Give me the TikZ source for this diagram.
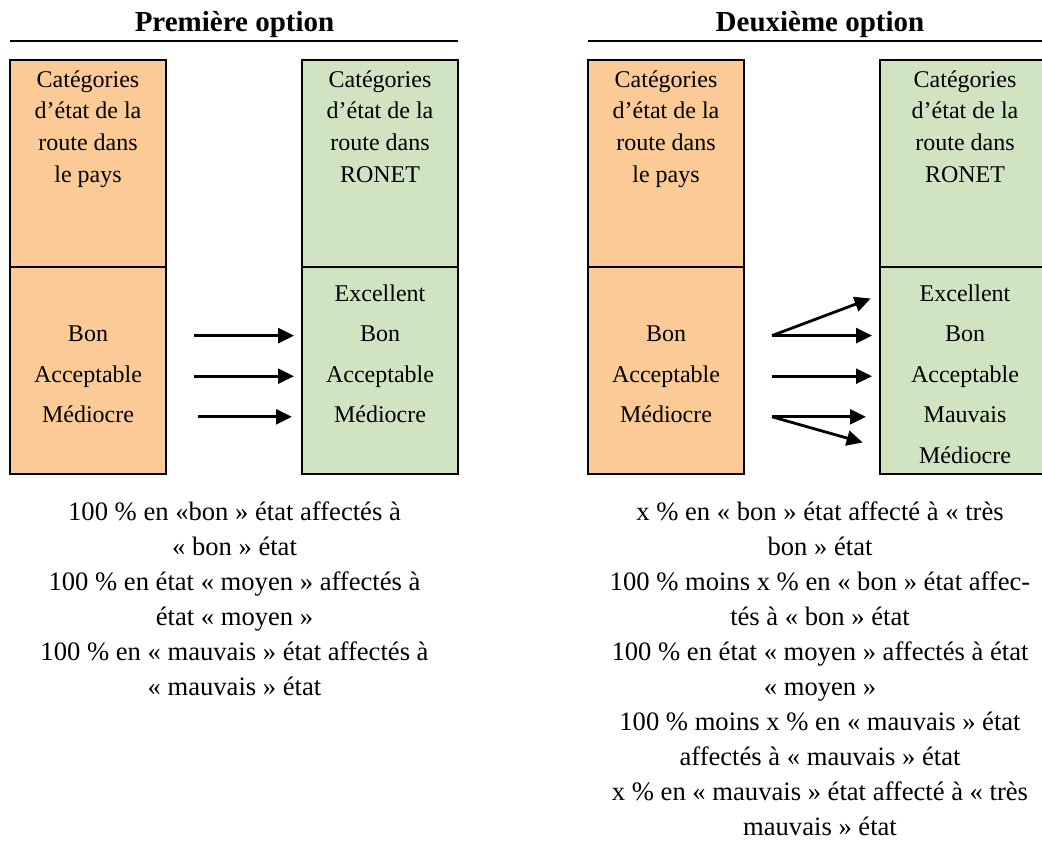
\documentclass[tikz,border=0pt]{standalone}
\usepackage{fontspec}
\setmainfont{Liberation Serif}
\usepackage{xcolor}
\usepackage{tikz}
\usetikzlibrary{arrows.meta, positioning}
\definecolor{paysColor}{RGB}{251, 202, 150}
\definecolor{ronetColor}{RGB}{208, 228, 194}

\begin{document}
\begin{tikzpicture}[
    x=0.5pt, y=-0.5pt,
    font=\fontsize{12}{15.85}\selectfont,
    title/.style={font=\fontsize{14.5}{17}\selectfont\bfseries, anchor=base, inner sep=0pt},
    rule/.style={draw=black, line width=1pt},
    pays/.style={rectangle, draw=black, line width=1.1pt, fill=paysColor, minimum width=78pt, minimum height=103.5pt, inner sep=0pt, outer sep=0pt},
    ronet/.style={pays, fill=ronetColor},
    head/.style={align=center, inner sep=0pt, anchor=north},
    row/.style={minimum width=78pt, minimum height=20.3pt, inner sep=0pt, outer sep=0pt, text height=8.5pt, text depth=2.5pt},
    note/.style={align=center, inner sep=0pt, anchor=north, font=\fontsize{13.3}{17.5}\selectfont},
    line/.style={draw=black, line width=1.4pt, -{Triangle[length=8pt, width=7.5pt]}, shorten <=14pt, shorten >=4pt}
]
\useasboundingbox (0,0) rectangle (1042,840);

% Nodes
\node (title1) [title] at (234.5,32) {Première option};
\node (l1top) [pays, anchor=north west] at (10,60) {};
\node (l1bot) [pays, below=0pt of l1top] {};
\node (r1top) [ronet, right=68pt of l1top] {};
\node (r1bot) [ronet, below=0pt of r1top] {};
\node (l1head) [head, below=5pt of l1top.north] {Catégories\\d’état de la\\route dans\\le pays};
\node (r1head) [head, below=5pt of r1top.north] {Catégories\\d’état de la\\route dans\\RONET};
\node (l1bon) [row, below=24.15pt of l1bot.north] {Bon};
\node (l1acc) [row, below=0pt of l1bon] {Acceptable};
\node (l1med) [row, below=0pt of l1acc] {Médiocre};
\node (r1exc) [row, below=3.85pt of r1bot.north] {Excellent};
\node (r1bon) [row, below=0pt of r1exc] {Bon};
\node (r1acc) [row, below=0pt of r1bon] {Acceptable};
\node (r1med) [row, below=0pt of r1acc] {Médiocre};
\node (note1) [note] at (234.5,501) {100 \% en «bon » état affectés à\\« bon » état\\100 \% en état « moyen » affectés à\\état « moyen »\\100 \% en « mauvais » état affectés à\\« mauvais » état};

\node (title2) [title] at (820,32) {Deuxième option};
\node (l2top) [pays, anchor=north west] at (588,60) {};
\node (l2bot) [pays, below=0pt of l2top] {};
\node (r2top) [ronet, minimum width=85pt, right=68pt of l2top] {};
\node (r2bot) [ronet, minimum width=85pt, below=0pt of r2top] {};
\node (l2head) [head, below=5pt of l2top.north] {Catégories\\d’état de la\\route dans\\le pays};
\node (r2head) [head, below=5pt of r2top.north] {Catégories\\d’état de la\\route dans\\RONET};
\node (l2bon) [row, below=24.15pt of l2bot.north] {Bon};
\node (l2acc) [row, below=0pt of l2bon] {Acceptable};
\node (l2med) [row, below=0pt of l2acc] {Médiocre};
\node (r2exc) [row, minimum width=85pt, below=3.85pt of r2bot.north] {Excellent};
\node (r2bon) [row, minimum width=85pt, below=0pt of r2exc] {Bon};
\node (r2acc) [row, minimum width=85pt, below=0pt of r2bon] {Acceptable};
\node (r2mau) [row, minimum width=85pt, below=0pt of r2acc] {Mauvais};
\node (r2med) [row, minimum width=85pt, below=0pt of r2mau] {Médiocre};
\node (note2) [note] at (820,501) {x \% en « bon » état affecté à « très\\bon » état\\100 \% moins x \% en « bon » état affec-\\tés à « bon » état\\100 \% en état « moyen » affectés à état\\« moyen »\\100 \% moins x \% en « mauvais » état\\affectés à « mauvais » état\\x \% en « mauvais » état affecté à « très\\mauvais » état};
\coordinate (l2bonout) at ([xshift=14pt]l2bon.east);
\coordinate (l2medout) at ([xshift=14pt]l2med.east);

% Rules
\draw [rule] ([yshift=9.5pt]l1top.north west) -- ([yshift=9.5pt]r1top.north east);
\draw [rule] ([yshift=9.5pt]l2top.north west) -- ([yshift=9.5pt]r2top.north east);

% Connectors
\path [line] (l1bon.east) -- (r1bon.west);
\path [line] (l1acc.east) -- (r1acc.west);
\path [line, shorten <=16pt, shorten >=5pt] (l1med.east) -- (r1med.west);
\path [line, shorten <=0pt, shorten >=5pt] (l2bonout) -- (r2exc.west);
\path [line, shorten <=0pt] (l2bonout) -- (r2bon.west);
\path [line] (l2acc.east) -- (r2acc.west);
\path [line, shorten <=0pt, shorten >=7pt] (l2medout) -- (r2mau.west);
\path [line, shorten <=0pt, shorten >=9pt] (l2medout) -- ([yshift=5pt]r2med.west);

\end{tikzpicture}
\end{document}
